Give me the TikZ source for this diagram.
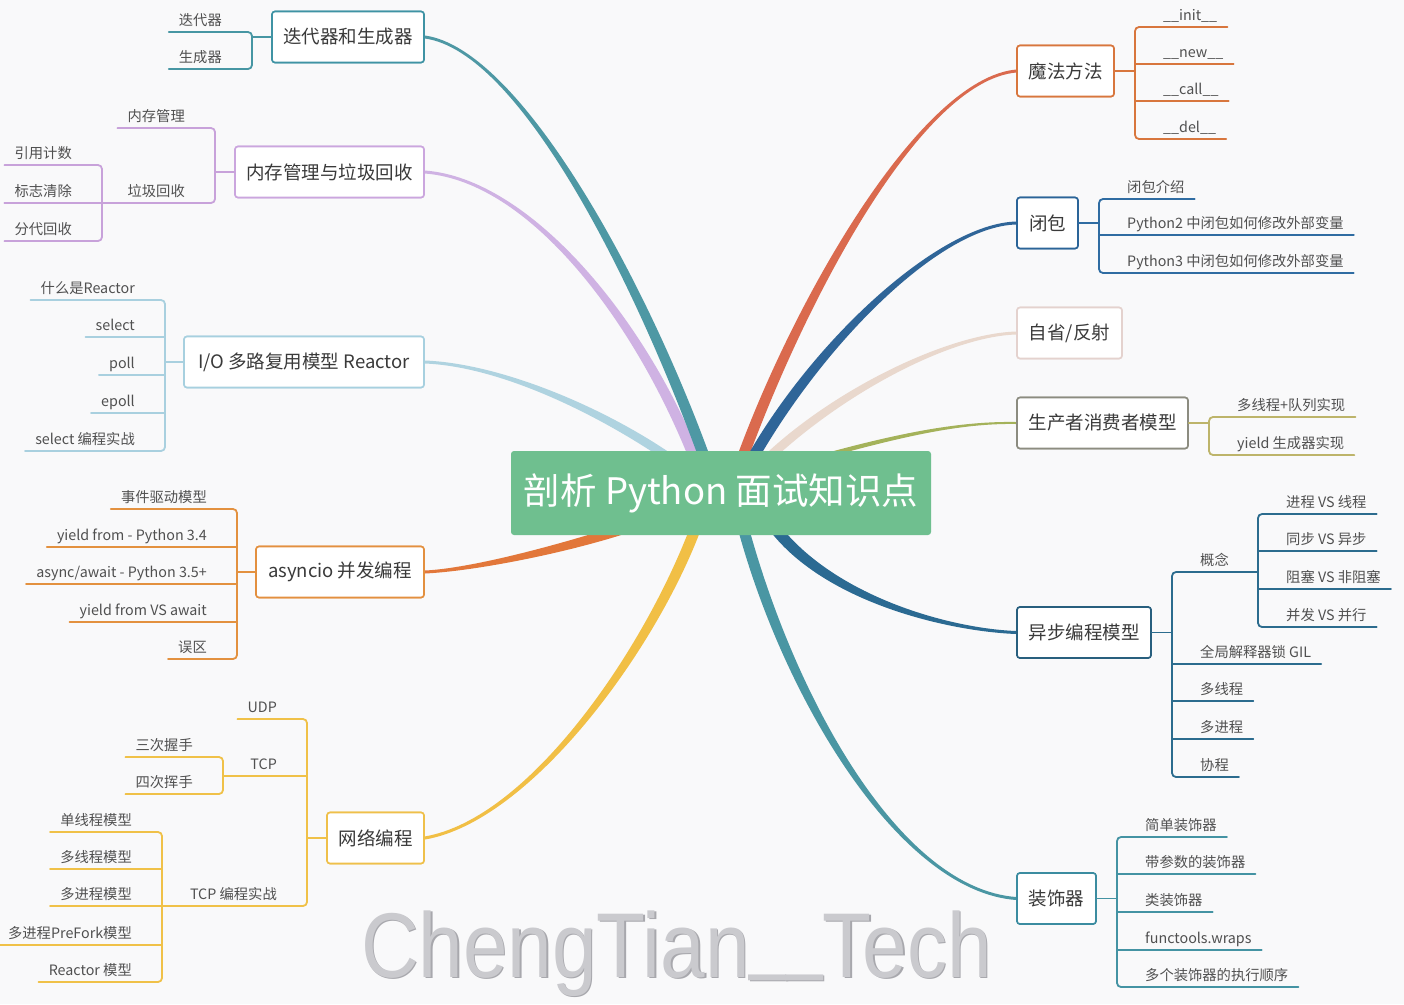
\documentclass[tikz,border=0pt]{standalone}
\usepackage{fontspec}
\usepackage{graphicx}
\setmainfont{Noto Sans CJK SC}
\newfontfamily\wmfont{Liberation Sans}
\usetikzlibrary{calc}
\definecolor{bg}{HTML}{F9F9FA}
\definecolor{txt}{HTML}{3A3A3A}
\definecolor{leaftxt}{HTML}{505050}
\definecolor{cRoot}{HTML}{6FBF8F}
% branch colours
\definecolor{brA}{HTML}{4E98A4}
\definecolor{brB}{HTML}{CFB2E3}
\definecolor{brC}{HTML}{AFD3E0}
\definecolor{brD}{HTML}{E2773A}
\definecolor{brE}{HTML}{F1BF45}
\definecolor{brF}{HTML}{DA6A4E}
\definecolor{brG}{HTML}{2F6598}
\definecolor{brH}{HTML}{E9D8CD}
\definecolor{brI}{HTML}{A4B25A}
\definecolor{brJ}{HTML}{2B6A92}
\definecolor{brK}{HTML}{4A96A3}
% box borders
\definecolor{bxA}{HTML}{3F93A4}
\definecolor{bxB}{HTML}{CBA6DE}
\definecolor{bxC}{HTML}{A7D0DF}
\definecolor{bxD}{HTML}{E3903F}
\definecolor{bxE}{HTML}{EFC04A}
\definecolor{bxF}{HTML}{D8763D}
\definecolor{bxG}{HTML}{2B6498}
\definecolor{bxH}{HTML}{E4D2CE}
\definecolor{bxI}{HTML}{8C8C80}
\definecolor{bxJ}{HTML}{285F7E}
\definecolor{bxK}{HTML}{3B8CA0}
% underline colours
\definecolor{ulA}{HTML}{4796A3}
\definecolor{ulB}{HTML}{C8A2DA}
\definecolor{ulC}{HTML}{A9D0DF}
\definecolor{ulD}{HTML}{E3913F}
\definecolor{ulE}{HTML}{F0C148}
\definecolor{ulF}{HTML}{D8763D}
\definecolor{ulG}{HTML}{2F6CA2}
\definecolor{ulI}{HTML}{BDB46A}
\definecolor{ulJ}{HTML}{2C6C8E}
\definecolor{ulK}{HTML}{4493A3}
\definecolor{wmcol}{HTML}{CACACE}
\definecolor{wmshadow}{HTML}{A8A8AD}
\newcommand\leaffont{\fontsize{14.3pt}{17pt}\selectfont}
\newcommand\topicfont{\fontsize{18.5pt}{22pt}\selectfont}
\newcommand\wmus{\raisebox{15pt}{\scalebox{0.82}[1]{\_\_}}}
\newcommand\branch[7]{\fill[#1] ($#2+#6$) .. controls ($#3+#6$) and ($#4+#7$) .. ($#5+#7$) -- ($#5-#7$) .. controls ($#4-#7$) and ($#3-#6$) .. ($#2-#6$) -- cycle;}
\tikzset{
  topic/.style={draw, fill=white, rounded corners=3pt, line width=1.6pt, minimum height=51pt, inner xsep=0pt, font=\topicfont, text=txt},
  leafL/.style={anchor=south east, inner xsep=10pt, inner ysep=6.6pt, text depth=0pt, font=\leaffont, text=leaftxt},
  leafR/.style={anchor=south west, inner xsep=10pt, inner ysep=6.6pt, text depth=0pt, font=\leaffont, text=leaftxt},
  ul/.style={line width=1.8pt, line cap=round, rounded corners=4pt},
}
\begin{document}
\begin{tikzpicture}[x=1pt,y=-1pt]
\path[fill=bg] (0,0) rectangle (1404,1004);
\useasboundingbox (0,0) rectangle (1404,1004);

% watermark
\node[anchor=base, font=\wmfont\fontsize{92pt}{96pt}\selectfont, text=wmshadow] (wms) at (678,978.5) {\scalebox{0.87}[1]{ChengTian\wmus Tech}};
\node[anchor=base, font=\wmfont\fontsize{92pt}{96pt}\selectfont, text=wmcol] (wm) at (676.5,977) {\scalebox{0.87}[1]{ChengTian\wmus Tech}};

% topic boxes (positions)
\node[topic, draw=bxA, minimum width=152pt] (t1) at (348,37) {迭代器和生成器};
\node[topic, draw=bxB, minimum width=189pt] (t2) at (329.5,172) {内存管理与垃圾回收};
\node[topic, draw=bxC, minimum width=240pt] (t3) at (304,362) {I/O 多路复用模型 Reactor};
\node[topic, draw=bxD, minimum width=168pt] (t4) at (340,572) {asyncio 并发编程};
\node[topic, draw=bxE, minimum width=97pt] (t5) at (375.5,838) {网络编程};
\node[topic, draw=bxF, minimum width=97pt] (t6) at (1065.5,71) {魔法方法};
\node[topic, draw=bxG, minimum width=61pt] (t7) at (1047.5,223) {闭包};
\node[topic, draw=bxH, minimum width=105pt] (t8) at (1069.5,333) {自省/反射};
\node[topic, draw=bxI, minimum width=171pt] (t9) at (1102.5,423) {生产者消费者模型};
\node[topic, draw=bxJ, minimum width=134pt] (t10) at (1084,632.5) {异步编程模型};
\node[topic, draw=bxK, minimum width=79pt] (t11) at (1056.5,898.5) {装饰器};

% branch start points inside the root
\coordinate (s1) at (705,459);
\coordinate (s2) at (695,459);
\coordinate (s3) at (671,459);
\coordinate (s4) at (630,527);
\coordinate (s5) at (696,527);
\coordinate (s6) at (742,459);
\coordinate (s7) at (752,459);
\coordinate (s8) at (767,459);
\coordinate (s9) at (820,457);
\coordinate (s10) at (774,527);
\coordinate (s11) at (743,527);

% tapered branches
\branch{brC}{(s3)}{(600,410)}{(500,365)}{(t3.east)}{(2.5,-3.7)}{(0,-1.5)}
\branch{brB}{(s2)}{(640,320)}{(530,180)}{(t2.east)}{(5.1,-2)}{(0,-1.5)}
\branch{brA}{(s1)}{(640,280)}{(520,50)}{(t1.east)}{(5.2,-1.9)}{(0,-1.5)}
\branch{brD}{(s4)}{(560,550)}{(470,570)}{(t4.east)}{(-1.2,-4.8)}{(0,-1.5)}
\branch{brE}{(s5)}{(650,650)}{(530,820)}{(t5.east)}{(-5.1,-1.9)}{(-0.25,-1.5)}
\branch{brH}{(s8)}{(840,390)}{(950,335)}{(t8.west)}{(3.1,3.3)}{(0,1.5)}
\branch{brF}{(s6)}{(800,300)}{(920,80)}{(t6.west)}{(5.2,1.9)}{(0,1.5)}
\branch{brG}{(s7)}{(820,340)}{(940,225)}{(t7.west)}{(4.8,2.7)}{(0,1.5)}
\branch{brI}{(s9)}{(900,435)}{(960,422)}{(t9.west)}{(0.6,2.1)}{(0,1)}
\branch{brJ}{(s10)}{(830,600)}{(950,630)}{(t10.west)}{(-4.4,3.4)}{(0,1.5)}
\branch{brK}{(s11)}{(790,700)}{(900,890)}{(t11.west)}{(-5.3,1.4)}{(0,1.5)}

% redraw boxes on top of branch ends
\node[topic, draw=bxA, minimum width=152pt] at (t1) {迭代器和生成器};
\node[topic, draw=bxB, minimum width=189pt] at (t2) {内存管理与垃圾回收};
\node[topic, draw=bxC, minimum width=240pt] at (t3) {I/O 多路复用模型 Reactor};
\node[topic, draw=bxD, minimum width=168pt] at (t4) {asyncio 并发编程};
\node[topic, draw=bxE, minimum width=97pt] at (t5) {网络编程};
\node[topic, draw=bxF, minimum width=97pt] at (t6) {魔法方法};
\node[topic, draw=bxG, minimum width=61pt] at (t7) {闭包};
\node[topic, draw=bxH, minimum width=105pt] at (t8) {自省/反射};
\node[topic, draw=bxI, minimum width=171pt] at (t9) {生产者消费者模型};
\node[topic, draw=bxJ, minimum width=134pt] at (t10) {异步编程模型};
\node[topic, draw=bxK, minimum width=79pt] at (t11) {装饰器};

% root
\node[fill=cRoot, rounded corners=3pt, minimum width=420pt, minimum height=84pt, inner sep=0pt, text=white, font=\fontsize{36.5pt}{42pt}\selectfont] (root) at (721,493) {剖析 Python 面试知识点};

% ---------- group 1
\coordinate (b1) at (252,0);
\node[leafL] (l1a) at (232,32) {迭代器};
\node[leafL] (l1b) at (232,69) {生成器};
\draw[ul, ulA] (l1a.south west) -- (l1a.south -| b1) -- (l1b.south -| b1) -- (l1b.south west);
\draw[ul, ulA] (t1.west) -- (t1.west -| b1);

% ---------- group 2
\coordinate (b2) at (215,0);
\coordinate (b2b) at (102,0);
\node[leafL] (l2a) at (195,128) {内存管理};
\node[leafL] (l2b) at (195,203) {垃圾回收};
\node[leafL] (l2c) at (82,165) {引用计数};
\node[leafL] (l2d) at (82,203) {标志清除};
\node[leafL] (l2e) at (82,241) {分代回收};
\draw[ul, ulB] (l2a.south west) -- (l2a.south -| b2) -- (l2b.south -| b2) -- (l2b.south -| b2b);
\draw[ul, ulB] (t2.west) -- (t2.west -| b2);
\draw[ul, ulB] (l2c.south west) -- (l2c.south -| b2b) -- (l2e.south -| b2b) -- (l2e.south west);
\draw[ul, ulB] (l2d.south west) -- (l2d.south -| b2b);

% ---------- group 3
\coordinate (b3) at (165,0);
\node[leafL] (l3a) at (145,300) {什么是Reactor};
\node[leafL] (l3b) at (145,337) {select};
\node[leafL] (l3c) at (145,375) {poll};
\node[leafL] (l3d) at (145,413) {epoll};
\node[leafL] (l3e) at (145,451) {select 编程实战};
\draw[ul, ulC] (l3a.south west) -- (l3a.south -| b3) -- (l3e.south -| b3) -- (l3e.south west);
\draw[ul, ulC] (l3b.south west) -- (l3b.south -| b3);
\draw[ul, ulC] (l3c.south west) -- (l3c.south -| b3);
\draw[ul, ulC] (l3d.south west) -- (l3d.south -| b3);
\draw[ul, ulC] (t3.west) -- (t3.west -| b3);

% ---------- group 4
\coordinate (b4) at (237,0);
\node[leafL] (l4a) at (217,509) {事件驱动模型};
\node[leafL] (l4b) at (217,547) {yield from - Python 3.4};
\node[leafL] (l4c) at (217,584) {async/await - Python 3.5+};
\node[leafL] (l4d) at (217,622) {yield from VS await};
\node[leafL] (l4e) at (217,659) {误区};
\draw[ul, ulD] (l4a.south west) -- (l4a.south -| b4) -- (l4e.south -| b4) -- (l4e.south west);
\draw[ul, ulD] (l4b.south west) -- (l4b.south -| b4);
\draw[ul, ulD] (l4c.south west) -- (l4c.south -| b4);
\draw[ul, ulD] (l4d.south west) -- (l4d.south -| b4);
\draw[ul, ulD] (t4.west) -- (t4.west -| b4);

% ---------- group 5
\coordinate (b5) at (307,0);
\coordinate (b5b) at (223,0);
\coordinate (b5c) at (162,0);
\node[leafL] (l5a) at (287,719) {UDP};
\node[leafL] (l5b) at (287,776) {TCP};
\node[leafL] (l5c) at (287,906) {TCP 编程实战};
\node[leafL] (l5d) at (203,757) {三次握手};
\node[leafL] (l5e) at (203,794) {四次挥手};
\node[leafL] (l5f) at (142,832) {单线程模型};
\node[leafL] (l5g) at (142,869) {多线程模型};
\node[leafL] (l5h) at (142,906) {多进程模型};
\node[leafL] (l5i) at (142,945) {多进程PreFork模型};
\node[leafL] (l5j) at (142,982) {Reactor 模型};
\draw[ul, ulE] (l5a.south west) -- (l5a.south -| b5) -- (l5c.south -| b5) -- (l5c.south -| b5c);
\draw[ul, ulE] (l5b.south -| b5b) -- (l5b.south -| b5);
\draw[ul, ulE] (t5.west) -- (t5.west -| b5);
\draw[ul, ulE] (l5d.south west) -- (l5d.south -| b5b) -- (l5e.south -| b5b) -- (l5e.south west);
\draw[ul, ulE] (l5f.south west) -- (l5f.south -| b5c) -- (l5j.south -| b5c) -- (l5j.south west);
\draw[ul, ulE] (l5g.south west) -- (l5g.south -| b5c);
\draw[ul, ulE] (l5h.south west) -- (l5h.south -| b5c);
\draw[ul, ulE] (l5i.south west) -- (l5i.south -| b5c);

% ---------- group 6
\coordinate (b6) at (1135,0);
\node[leafR] (l6a) at (1153,27) {\_\_init\_\_};
\node[leafR] (l6b) at (1153,64) {\_\_new\_\_};
\node[leafR] (l6c) at (1153,101) {\_\_call\_\_};
\node[leafR] (l6d) at (1153,139) {\_\_del\_\_};
\draw[ul, ulF] (l6a.south east) -- (l6a.south -| b6) -- (l6d.south -| b6) -- (l6d.south east);
\draw[ul, ulF] (l6b.south east) -- (l6b.south -| b6);
\draw[ul, ulF] (l6c.south east) -- (l6c.south -| b6);
\draw[ul, ulF] (t6.east) -- (t6.east -| b6);

% ---------- group 7
\coordinate (b7) at (1099,0);
\node[leafR] (l7a) at (1117,199) {闭包介绍};
\node[leafR] (l7b) at (1117,235) {Python2 中闭包如何修改外部变量};
\node[leafR] (l7c) at (1117,273) {Python3 中闭包如何修改外部变量};
\draw[ul, ulG] (l7a.south east) -- (l7a.south -| b7) -- (l7c.south -| b7) -- (l7c.south east);
\draw[ul, ulG] (l7b.south east) -- (l7b.south -| b7);
\draw[ul, ulG] (t7.east) -- (t7.east -| b7);

% ---------- group 9
\coordinate (b9) at (1209,0);
\node[leafR] (l9a) at (1227,417) {多线程+队列实现};
\node[leafR] (l9b) at (1227,455) {yield 生成器实现};
\draw[ul, ulI] (l9a.south east) -- (l9a.south -| b9) -- (l9b.south -| b9) -- (l9b.south east);
\draw[ul, ulI] (t9.east) -- (t9.east -| b9);

% ---------- group 10
\coordinate (b10) at (1172,0);
\coordinate (b10b) at (1258,0);
\node[leafR] (l10a) at (1190,572) {概念};
\node[leafR] (l10b) at (1276,514) {进程 VS 线程};
\node[leafR] (l10c) at (1276,551) {同步 VS 异步};
\node[leafR] (l10d) at (1276,589) {阻塞 VS 非阻塞};
\node[leafR] (l10e) at (1276,627) {并发 VS 并行};
\node[leafR] (l10f) at (1190,664) {全局解释器锁 GIL};
\node[leafR] (l10g) at (1190,701) {多线程};
\node[leafR] (l10h) at (1190,739) {多进程};
\node[leafR] (l10i) at (1190,777) {协程};
\draw[ul, ulJ] (l10a.south -| b10b) -- (l10a.south -| b10) -- (l10i.south -| b10) -- (l10i.south east);
\draw[ul, ulJ] (l10f.south east) -- (l10f.south -| b10);
\draw[ul, ulJ] (l10g.south east) -- (l10g.south -| b10);
\draw[ul, ulJ] (l10h.south east) -- (l10h.south -| b10);
\draw[ul, ulJ] (t10.east) -- (t10.east -| b10);
\draw[ul, ulJ] (l10b.south east) -- (l10b.south -| b10b) -- (l10e.south -| b10b) -- (l10e.south east);
\draw[ul, ulJ] (l10c.south east) -- (l10c.south -| b10b);
\draw[ul, ulJ] (l10d.south east) -- (l10d.south -| b10b);

% ---------- group 11
\coordinate (b11) at (1117,0);
\node[leafR] (l11a) at (1135,837) {简单装饰器};
\node[leafR] (l11b) at (1135,874) {带参数的装饰器};
\node[leafR] (l11c) at (1135,912) {类装饰器};
\node[leafR] (l11d) at (1135,950) {functools.wraps};
\node[leafR] (l11e) at (1135,987) {多个装饰器的执行顺序};
\draw[ul, ulK] (l11a.south east) -- (l11a.south -| b11) -- (l11e.south -| b11) -- (l11e.south east);
\draw[ul, ulK] (l11b.south east) -- (l11b.south -| b11);
\draw[ul, ulK] (l11c.south east) -- (l11c.south -| b11);
\draw[ul, ulK] (l11d.south east) -- (l11d.south -| b11);
\draw[ul, ulK] (t11.east) -- (t11.east -| b11);
\end{tikzpicture}
\end{document}
